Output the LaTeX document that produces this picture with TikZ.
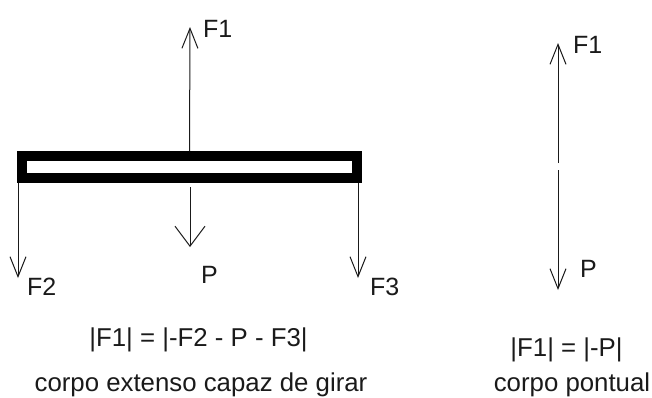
\documentclass[tikz,border=0pt]{standalone}
\usepackage{fontspec}
\setmainfont{Liberation Sans}
\usetikzlibrary{positioning, calc, arrows.meta}
\definecolor{Ink}{HTML}{1A1A1A}
\tikzset{
    forca/.style={-{Straight Barb[length=20pt, width=16pt, line width=1pt]}, line width=1pt, color=Ink},
    peso/.style={-{Straight Barb[length=20pt, width=30pt, line width=1pt]}, line width=1pt, color=Ink},
    rotulo/.style={anchor=base west, inner sep=0pt, text=Ink, font=\fontsize{25}{30}\selectfont},
    legenda/.style={anchor=base, inner sep=0pt, text=Ink, font=\fontsize{25.8}{31}\selectfont},
    barra/.style={rectangle, draw=black, line width=10pt, fill=white, inner sep=0pt, minimum width=335pt, minimum height=22pt},
}
\begin{document}
\begin{tikzpicture}[x=1pt, y=-1pt]
    \useasboundingbox (0,0) rectangle (652,397);

    % corpo extenso
    \node[barra] (bar) at (189.5,167) {};
    \coordinate (f1tip) at (190,27);
    \coordinate (ptop) at (190,187);
    \coordinate (ptip) at (190,247);
    \coordinate (f2tip) at (18,278);
    \coordinate (f3top) at (358,183);
    \coordinate (f3tip) at (358,278);

    \draw[forca] (bar.north) -- (f1tip);
    \draw[peso] (ptop) -- (ptip);
    \draw[forca] (bar.south west) ++(1,0) coordinate (f2top) -- (f2tip);
    \draw[forca] (f3top) -- (f3tip);

    \node[rotulo] (lf1) at (203,37) {F1};
    \node[rotulo] (lp) at (201,283) {P};
    \node[rotulo] (lf2) at (27,295) {F2};
    \node[rotulo] (lf3) at (370,295) {F3};

    \node[legenda] (eq1) at (198.5,346) {|F1| = |-F2 - P - F3|};
    \node[legenda] (cap1) at (201,391) {corpo extenso capaz de girar};

    % corpo pontual
    \coordinate (pt1) at (558,163);
    \coordinate (pt2) at (558,170);
    \coordinate (q1tip) at (558,43);
    \coordinate (q2tip) at (558,290);
    \draw[forca] (pt1) -- (q1tip);
    \draw[forca] (pt2) -- (q2tip);

    \node[rotulo] (rf1) at (573,53) {F1};
    \node[rotulo] (rp) at (580,277) {P};

    \node[legenda] (eq2) at (566.5,356) {|F1| = |-P|};
    \node[legenda] (cap2) at (572,391) {corpo pontual};
\end{tikzpicture}
\end{document}
